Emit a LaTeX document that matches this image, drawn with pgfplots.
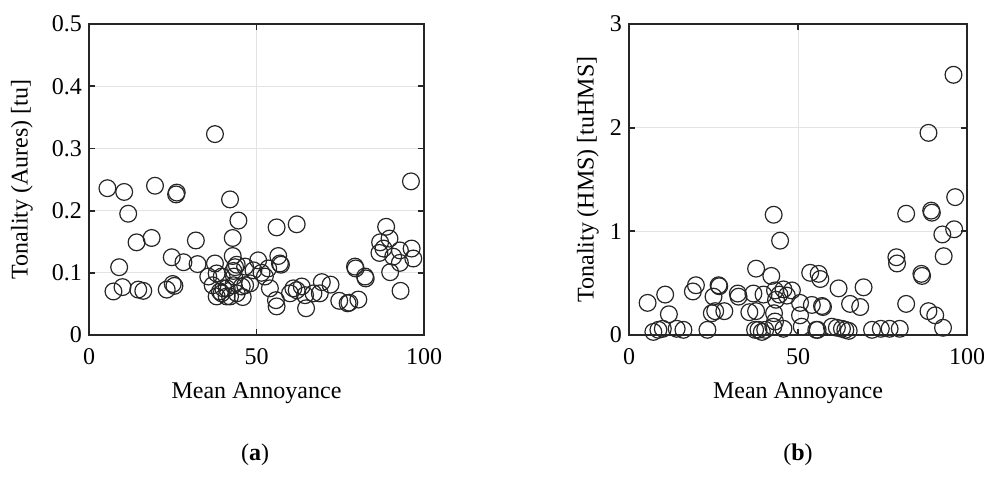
\documentclass[border=0pt]{standalone}
\usepackage{fontspec}
\setmainfont{Liberation Serif}
\usepackage{pgfplots}
\pgfplotsset{compat=1.18}

\pgfplotsset{
  annoy/.style={
    scale only axis,
    width=167.5pt, height=155.5pt,
    anchor=south west,
    xmin=0, xmax=100,
    xtick={0,50,100},
    font=\fontsize{12}{14.4}\selectfont,
    /pgf/number format/assume math mode=true,
    tick align=inside, tick pos=both,
    major tick length=3pt,
    axis line style={line width=0.9pt, black!85},
    every tick/.style={line width=0.9pt, black!85},
    grid=major,
    major grid style={gray!22, line width=0.5pt},
    xticklabel style={yshift=-3pt},
    xlabel style={at={(axis description cs:0.5,0)}, anchor=center, yshift=-29pt},
    xlabel={Mean Annoyance},
  },
  rings/.style={only marks, mark=o, mark size=4.2pt, black!85, mark options={line width=0.6pt}},
}

\begin{document}
\begin{tikzpicture}[x=1pt,y=1pt]
\useasboundingbox (0,0) rectangle (492,244);

% (a) Aures
\begin{axis}[annoy, at={(44.5pt,76.5pt)},
  ymin=0, ymax=0.5, ytick={0,0.1,0.2,0.3,0.4,0.5},
  yticklabel style={/pgf/number format/fixed, /pgf/number format/precision=1},
  ylabel={Tonality (Aures) [tu]},
  ylabel style={at={(axis description cs:0,0.5)}, anchor=center, yshift=33.5pt},
]
\addplot[rings] table {
x y
37.6 0.323
5.5 0.236
10.5 0.230
19.7 0.240
26.2 0.229
26.0 0.226
42.1 0.218
96.1 0.247
11.7 0.195
44.6 0.184
56.0 0.173
62.0 0.178
88.7 0.174
14.2 0.149
18.7 0.156
31.9 0.152
42.9 0.156
86.9 0.149
89.7 0.155
24.7 0.125
28.2 0.117
32.4 0.114
9.0 0.109
42.9 0.127
37.6 0.115
56.5 0.127
57.0 0.115
57.3 0.113
50.5 0.120
44.1 0.113
46.6 0.110
43.6 0.109
49.1 0.104
53.5 0.107
51.5 0.100
52.5 0.094
79.4 0.110
79.6 0.107
82.4 0.094
82.6 0.091
89.9 0.101
86.7 0.132
87.9 0.139
90.8 0.126
92.8 0.136
96.3 0.139
96.8 0.123
92.8 0.116
93.0 0.071
7.3 0.070
10.0 0.077
14.7 0.073
16.2 0.071
23.2 0.073
25.0 0.082
25.5 0.079
35.6 0.094
36.9 0.080
38.1 0.099
39.6 0.094
43.1 0.103
38.1 0.062
39.6 0.067
41.1 0.075
42.1 0.062
43.1 0.080
44.1 0.067
45.9 0.061
46.6 0.080
48.1 0.083
43.3 0.094
41.1 0.062
39.1 0.070
40.1 0.075
45.6 0.078
54.0 0.075
55.8 0.056
56.0 0.046
60.0 0.067
61.0 0.075
62.0 0.072
63.5 0.078
64.5 0.064
64.8 0.043
67.0 0.067
69.5 0.085
68.9 0.067
72.1 0.081
74.7 0.055
77.2 0.051
77.7 0.052
80.4 0.057
};
\end{axis}

% (b) HMS
\begin{axis}[annoy, at={(314.5pt,76.5pt)}, width=169pt,
  ymin=0, ymax=3, ytick={0,1,2,3},
  ylabel={Tonality (HMS) [tuHMS]},
  ylabel style={at={(axis description cs:0,0.5)}, anchor=center, yshift=20.5pt},
]
\addplot[rings] table {
x y
96.0 2.51
88.6 1.95
96.5 1.33
82.0 1.17
89.4 1.20
89.6 1.18
96.2 1.02
92.7 0.97
93.1 0.76
79.1 0.75
79.3 0.69
86.5 0.59
86.7 0.57
42.8 1.16
44.7 0.91
37.6 0.64
42.1 0.57
53.6 0.60
56.1 0.59
56.6 0.54
62.0 0.45
69.4 0.46
19.8 0.48
18.9 0.42
26.5 0.48
26.7 0.47
10.7 0.39
5.5 0.31
11.8 0.20
25.0 0.37
25.5 0.23
24.5 0.21
28.2 0.23
32.2 0.40
32.4 0.37
36.8 0.40
35.6 0.22
37.6 0.23
39.8 0.39
43.2 0.43
45.7 0.44
48.2 0.43
43.5 0.34
44.5 0.39
46.7 0.38
50.6 0.31
54.1 0.29
57.1 0.28
57.4 0.27
42.9 0.21
43.2 0.13
50.6 0.19
51.1 0.08
65.4 0.30
68.4 0.27
82.0 0.30
88.6 0.23
90.6 0.19
92.9 0.07
7.2 0.03
8.7 0.05
10.0 0.06
14.1 0.06
16.1 0.05
23.2 0.05
37.3 0.05
38.3 0.05
39.3 0.03
40.3 0.05
42.7 0.08
45.7 0.06
55.4 0.05
55.8 0.05
60.0 0.08
61.5 0.07
63.0 0.06
64.0 0.05
65.0 0.04
71.9 0.05
74.5 0.06
77.1 0.06
80.1 0.06
};
\end{axis}

\node[font=\fontsize{12}{14.4}\selectfont] at (127.5,16.5) {(\textbf{a})};
\node[font=\fontsize{12}{14.4}\selectfont] at (399,16.5) {(\textbf{b})};
\end{tikzpicture}
\end{document}
